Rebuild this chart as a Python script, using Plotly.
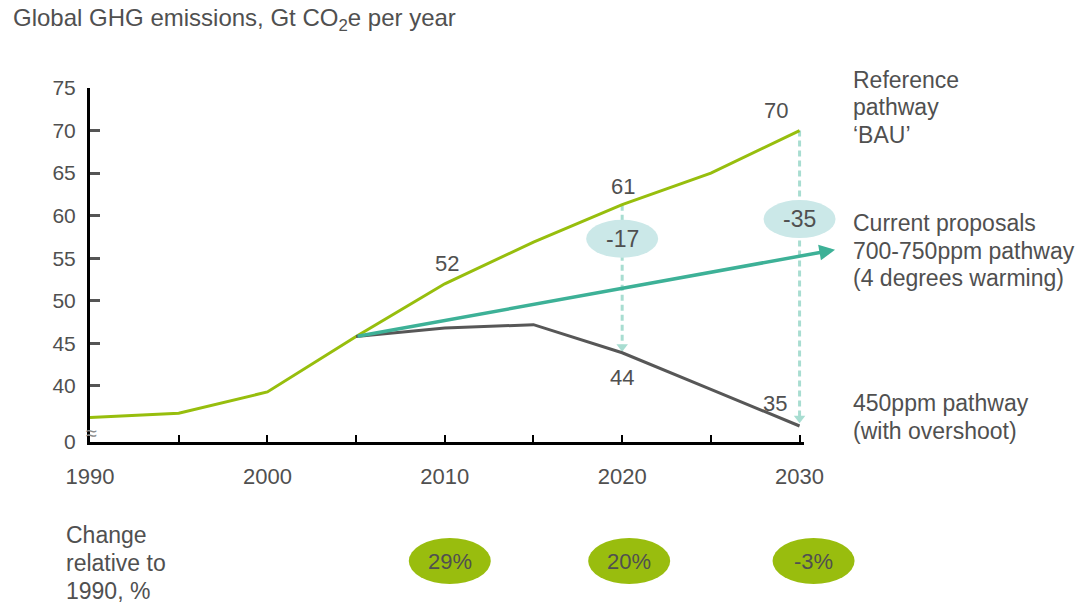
import plotly.graph_objects as go

# ---------------- data ----------------
bau_years = [1990, 1995, 2000, 2005, 2010, 2015, 2020, 2025, 2030]
bau_values = [36.3, 36.8, 39.3, 45.8, 52.0, 56.9, 61.3, 65.0, 70.0]

cp_years = [2005, 2032]
cp_values = [45.8, 56.0]

p450_years = [2005, 2010, 2015, 2020, 2025, 2030]
p450_values = [45.8, 46.8, 47.2, 43.9, 39.6, 35.3]

gap_years = [2020, 2030]
gap_top = [61.3, 70.0]
gap_bottom = [44.6, 36.2]
gap_labels = ["-17", "-35"]
gap_label_values = [57.3, 59.6]

point_labels = [("52", 2010, 52.0), ("61", 2020, 61.3), ("70", 2030, 70.0),
                ("44", 2020, 43.9), ("35", 2030, 35.3)]

change_years = [2010, 2020, 2030]
change_labels = ["29%", "20%", "-3%"]

y_ticks = [40, 45, 50, 55, 60, 65, 70, 75]
y_bottom = 33.42
x_ticks = [1990, 1995, 2000, 2005, 2010, 2015, 2020, 2025, 2030]
x_ticktext = ["1990", "", "2000", "", "2010", "", "2020", "", "2030"]

title_text = "Global GHG emissions, Gt CO<sub>2</sub>e per year"
bau_label = ["Reference", "pathway", "‘BAU’"]
cp_label = ["Current proposals", "700-750ppm pathway", "(4 degrees warming)"]
p450_label = ["450ppm pathway", "(with overshoot)"]
change_title = ["Change", "relative to", "1990, %"]

# ---------------- styling ----------------
FONT = "Liberation Sans, Arial, sans-serif"
TXT = "#505050"
GREEN = "#97be0d"
TEAL = "#3db197"
GREY = "#575757"
DASH = "#a8ddd1"
ELL = "#cbe8e8"
CIRC = "#99bd0e"

W, H = 1083, 603
L, T, B = 90, 88, 161
XMIN, XMAX = 1990, 2030.25
PX_PER_YEAR = 17.75
plot_w = (XMAX - XMIN) * PX_PER_YEAR
R = W - L - plot_w
plot_h = H - T - B

def xp(year):
    return (year - XMIN) / (XMAX - XMIN)

def yp(v):
    return (v - y_bottom) / (75 - y_bottom)

def pxp(px):
    return (px - L) / plot_w

def pyp(py):
    return (H - B - py) / plot_h

fig = go.Figure()

# gap dashed arrows
for yr, top, bot in zip(gap_years, gap_top, gap_bottom):
    fig.add_trace(go.Scatter(x=[yr, yr], y=[top, bot], mode="lines",
                             line=dict(color=DASH, width=3, dash="6px,4px"),
                             hoverinfo="skip", showlegend=False))
    fig.add_trace(go.Scatter(x=[yr], y=[bot], mode="markers",
                             marker=dict(symbol="triangle-down", size=10, color=DASH),
                             cliponaxis=False, hoverinfo="skip", showlegend=False))

fig.add_trace(go.Scatter(x=bau_years, y=bau_values, mode="lines",
                         line=dict(color=GREEN, width=3), showlegend=False))
fig.add_trace(go.Scatter(x=p450_years, y=p450_values, mode="lines",
                         line=dict(color=GREY, width=3), showlegend=False))

annotations = []
shapes = []

def text_ann(x, y, text, size, xanchor="center", xref="paper", yref="paper", **kw):
    d = dict(x=x, y=y, xref=xref, yref=yref, text=text, showarrow=False,
             xanchor=xanchor, yanchor="middle", align="left", borderpad=0,
             font=dict(size=size, color=TXT, family=FONT))
    d.update(kw)
    return d

# current proposals arrow
annotations.append(dict(x=cp_years[1], y=cp_values[1], ax=cp_years[0], ay=cp_values[0],
                        xref="x", yref="y", axref="x", ayref="y", text="",
                        showarrow=True, arrowhead=2, arrowsize=0.9, arrowwidth=3.5,
                        arrowcolor=TEAL, standoff=0))

# gap ellipses
for yr, lab, v in zip(gap_years, gap_labels, gap_label_values):
    shapes.append(dict(type="circle", xref="paper", yref="paper", xsizemode="pixel",
                       ysizemode="pixel", xanchor=xp(yr), yanchor=yp(v),
                       x0=-36, x1=36, y0=-19, y1=19, fillcolor=ELL, line=dict(width=0),
                       layer="above"))
    annotations.append(text_ann(xp(yr), yp(v), lab, 23))

# point labels
shifts = {"52": (2, 20), "61": (1, 18), "70": (-24, 20), "44": (0, -25), "35": (-25, 22)}
for lab, yr, v in point_labels:
    dx, dy = shifts[lab]
    annotations.append(text_ann(yr, v, lab, 22, xref="x", yref="y", xshift=dx, yshift=dy))

# title
annotations.append(text_ann(pxp(12), pyp(19), title_text, 24, xanchor="left"))

# right labels (one annotation per line for tight line spacing)
for lines, first_y in [(bau_label, 80), (cp_label, 223), (p450_label, 403)]:
    for i, line in enumerate(lines):
        annotations.append(text_ann(pxp(852), pyp(first_y + 27.5 * i), line, 23,
                                    xanchor="left"))

# change label
for i, line in enumerate(change_title):
    annotations.append(text_ann(pxp(65), pyp(535 + 28 * i), line, 23, xanchor="left"))

circle_offsets = [5, 7, 14]
for yr, lab, off in zip(change_years, change_labels, circle_offsets):
    shapes.append(dict(type="circle", xref="paper", yref="paper", xsizemode="pixel",
                       ysizemode="pixel", xanchor=xp(yr), yanchor=pyp(561),
                       x0=off - 41, x1=off + 41, y0=-23, y1=23, fillcolor=CIRC,
                       line=dict(width=0), layer="above"))
    annotations.append(text_ann(xp(yr), pyp(561), lab, 22, xshift=off))

# axis break mark
annotations.append(text_ann(pxp(92), pyp(433), "≈", 20, font=dict(size=20, color="#8a8a8a",
                                                                  family=FONT)))

fig.update_layout(
    width=W, height=H,
    margin=dict(l=L, r=R, t=T, b=B, pad=0),
    paper_bgcolor="white", plot_bgcolor="white",
    font=dict(family=FONT, color=TXT, size=22),
    showlegend=False,
    xaxis=dict(range=[XMIN, XMAX], tickvals=x_ticks, ticktext=x_ticktext,
               showgrid=False, zeroline=False, showline=True, linecolor="black",
               linewidth=3, ticks="inside", ticklen=7, tickwidth=2, tickcolor="black",
               ticklabelstandoff=13, tickfont=dict(size=22, color=TXT)),
    yaxis=dict(range=[y_bottom, 75], tickvals=[y_bottom] + y_ticks,
               ticktext=["0"] + [str(v) for v in y_ticks],
               showgrid=False, zeroline=False, showline=True, linecolor="black",
               linewidth=3, ticks="inside", ticklen=10, tickwidth=2.5, tickcolor="#555555",
               ticklabelstandoff=7, tickfont=dict(size=21, color=TXT)),
    annotations=annotations,
    shapes=shapes,
)

fig.write_html("out.html", config={"displayModeBar": False},
               post_script="document.body.style.margin='0';")
